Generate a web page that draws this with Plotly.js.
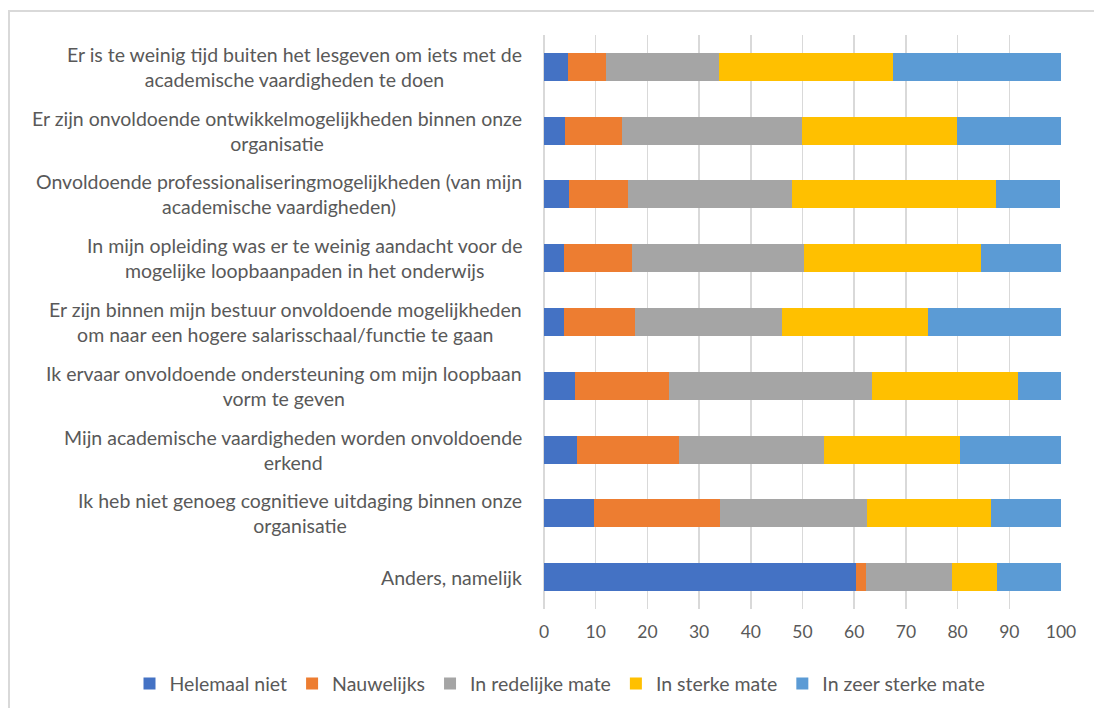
<!DOCTYPE html>
<html>
<head>
<meta charset="utf-8">
<script src="https://cdn.plot.ly/plotly-3.0.1.min.js"></script>
<style>
  html, body { margin: 0; padding: 0; background: #fff; width: 1094px; height: 708px; overflow: hidden; }
  #frame { position: absolute; left: 8px; top: 10px; width: 1200px; height: 800px;
           border-left: 2px solid #d9d9d9; border-top: 2px solid #d9d9d9; }
  #chart { position: absolute; left: 0; top: 0; width: 1094px; height: 708px; }
</style>
</head>
<body>
<div id="frame"></div>
<div id="chart"></div>
<script>
const categories = [
  "Er is te weinig tijd buiten het lesgeven om iets met de<br>academische vaardigheden te doen",
  "Er zijn onvoldoende ontwikkelmogelijkheden binnen onze<br>organisatie",
  "Onvoldoende professionaliseringmogelijkheden (van mijn<br>academische vaardigheden)",
  "In mijn opleiding was er te weinig aandacht voor de<br>mogelijke loopbaanpaden in het onderwijs",
  "Er zijn binnen mijn bestuur onvoldoende mogelijkheden<br>om naar een hogere salarisschaal/functie te gaan",
  "Ik ervaar onvoldoende ondersteuning om mijn loopbaan<br>vorm te geven",
  "Mijn academische vaardigheden worden onvoldoende<br>erkend",
  "Ik heb niet genoeg cognitieve uitdaging binnen onze<br>organisatie",
  "Anders, namelijk"
];
const seriesNames = ["Helemaal niet", "Nauwelijks", "In redelijke mate", "In sterke mate", "In zeer sterke mate"];
const helemaalNiet   = [4.6, 4.0, 4.8, 3.8, 3.8, 6.0, 6.4, 9.7, 60.4];
const nauwelijks     = [7.3, 11.0, 11.4, 13.2, 13.8, 18.1, 19.7, 24.3, 1.9];
const inRedelijkeMate= [21.9, 34.9, 31.7, 33.3, 28.5, 39.3, 28.0, 28.5, 16.7];
const inSterkeMate   = [33.8, 30.0, 39.6, 34.3, 28.2, 28.3, 26.4, 24.0, 8.7];
const inZeerSterke   = [32.4, 20.1, 12.4, 15.4, 25.7, 8.3, 19.5, 13.5, 12.3];
const tickValues = [0, 10, 20, 30, 40, 50, 60, 70, 80, 90, 100];
const colors = ["#4472C4", "#ED7D31", "#A5A5A5", "#FFC000", "#5B9BD5"];

const allSeries = [helemaalNiet, nauwelijks, inRedelijkeMate, inSterkeMate, inZeerSterke];
const catIds = categories.map((c, i) => "c" + i);

const traces = allSeries.map((vals, k) => ({
  type: "bar",
  orientation: "h",
  name: seriesNames[k],
  x: vals,
  y: catIds,
  marker: { color: colors[k], line: { width: 0 } },
  hoverinfo: "x+name"
}));

const fontFam = "Lato, 'Open Sans', sans-serif";
const annotations = categories.map((c, i) => ({
  xref: "x", yref: "y",
  x: 0, y: catIds[i],
  xshift: -20,
  xanchor: "right", yanchor: "middle",
  align: "center",
  text: c,
  showarrow: false,
  font: { family: fontFam, size: 19.5, color: "#595959" }
}));

const mL = 10, mR = 33;
const paperW = 1094 - mL - mR;
const plotLeftPx = 544;

const layout = {
  width: 1094, height: 708,
  margin: { l: mL, r: mR, t: 35, b: 99 },
  paper_bgcolor: "rgba(0,0,0,0)",
  plot_bgcolor: "rgba(0,0,0,0)",
  barmode: "stack",
  bargap: 0.56,
  font: { family: fontFam, size: 19.5, color: "#595959" },
  xaxis: {
    domain: [(plotLeftPx - mL) / paperW, 1],
    range: [0, 100],
    tickvals: tickValues,
    ticktext: tickValues.map(String),
    showgrid: true, gridcolor: "#d9d9d9", gridwidth: 1.5,
    zeroline: true, zerolinecolor: "#d9d9d9", zerolinewidth: 1.5,
    showline: false,
    ticks: "",
    ticklabelstandoff: 10,
    tickfont: { family: fontFam, size: 17.5, color: "#595959" },
    fixedrange: true
  },
  yaxis: {
    type: "category",
    categoryorder: "array",
    categoryarray: catIds,
    autorange: "reversed",
    showticklabels: false,
    showgrid: false, zeroline: false, showline: false,
    ticks: "",
    fixedrange: true
  },
  showlegend: true,
  legend: {
    orientation: "h",
    xref: "paper", yref: "container",
    x: (560 - mL) / paperW, xanchor: "center",
    y: 0.034, yanchor: "middle",
    font: { family: fontFam, size: 19.5, color: "#595959" },
    traceorder: "normal",
    itemwidth: 30
  },
  annotations: annotations
};

Plotly.newPlot("chart", traces, layout, { displayModeBar: false, staticPlot: true });
</script>
</body>
</html>
